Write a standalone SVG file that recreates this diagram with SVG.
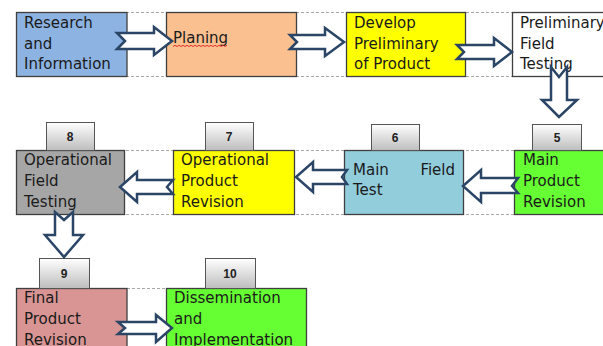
<svg xmlns="http://www.w3.org/2000/svg" width="603" height="346" viewBox="0 0 603 346">
<defs>
<linearGradient id="tabg" x1="0" y1="0" x2="0" y2="1">
<stop offset="0" stop-color="#ffffff"/>
<stop offset="1" stop-color="#bdbdbd"/>
</linearGradient>
<style>
.box{stroke:#3f3f3f;stroke-width:1.3}
.dash{stroke:#a8a8a8;stroke-width:1;stroke-dasharray:3 2;fill:none}
.t{font-family:"DejaVu Sans",sans-serif;font-size:15px;fill:#1a1a1a}
.tab{fill:url(#tabg);stroke:#555;stroke-width:1}
.num{font-family:"Liberation Sans",sans-serif;font-size:12px;font-weight:bold;fill:#222;text-anchor:middle}
.arr{fill:#ffffff;stroke:#2b4566;stroke-width:2.5;stroke-linejoin:miter}
</style>
</defs>
<rect width="603" height="346" fill="#ffffff"/>
<g id="guides">
<line class="dash" x1="16" y1="12.5" x2="603" y2="12.5"/>
<line class="dash" x1="16" y1="76.5" x2="603" y2="76.5"/>
<line class="dash" x1="16" y1="150.5" x2="603" y2="150.5"/>
<line class="dash" x1="16" y1="214.5" x2="603" y2="214.5"/>
<line class="dash" x1="127" y1="288.5" x2="166" y2="288.5"/>
</g>
<g id="n1">
<rect class="box" x="16.5" y="12.5" width="110.5" height="64" fill="#8db3e2"/>
<text class="t" x="24" y="28">Research</text>
<text class="t" x="24" y="49">and</text>
<text class="t" x="24" y="69">Information</text>
</g>
<g id="n2">
<rect class="box" x="166.5" y="12.5" width="130" height="64" fill="#fac090"/>
<text class="t" x="173" y="43">Planing</text>
<path d="M173 46.5 l2 -1.2 l2 1.2 l2 -1.2 l2 1.2 l2 -1.2 l2 1.2 l2 -1.2 l2 1.2 l2 -1.2 l2 1.2 l2 -1.2 l2 1.2 l2 -1.2 l2 1.2 l2 -1.2 l2 1.2 l2 -1.2 l2 1.2 l2 -1.2 l2 1.2 l2 -1.2 l2 1.2 l2 -1.2 l2 1.2 l2 -1.2 l2 1.2 l2 -1.2" fill="none" stroke="#e02020" stroke-width="0.9"/>
</g>
<g id="n3">
<rect class="box" x="346.5" y="12.5" width="119" height="64" fill="#ffff00"/>
<text class="t" x="354" y="28">Develop</text>
<text class="t" x="354" y="49">Preliminary</text>
<text class="t" x="354" y="69">of Product</text>
</g>
<g id="n4">
<rect class="box" x="512.5" y="12.5" width="100" height="64" fill="#ffffff"/>
<text class="t" x="520" y="28">Preliminary</text>
<text class="t" x="520" y="49">Field</text>
<text class="t" x="520" y="69">Testing</text>
</g>
<g id="n5">
<rect class="box" x="514.5" y="150.5" width="100" height="64" fill="#66ff33"/>
<rect class="tab" x="532.5" y="124.5" width="49" height="26"/>
<text class="num" x="557" y="142">5</text>
<text class="t" x="523" y="165">Main</text>
<text class="t" x="523" y="186">Product</text>
<text class="t" x="523" y="207">Revision</text>
</g>
<g id="n6">
<rect class="box" x="344.5" y="150.5" width="119" height="64" fill="#92cddc"/>
<rect class="tab" x="371.5" y="124.5" width="48" height="26"/>
<text class="num" x="395" y="142">6</text>
<text class="t" x="353" y="175">Main</text>
<text class="t" x="455" y="175" text-anchor="end">Field</text>
<text class="t" x="353" y="195">Test</text>
</g>
<g id="n7">
<rect class="box" x="173.5" y="150.5" width="121" height="64" fill="#ffff00"/>
<rect class="tab" x="205.5" y="122.5" width="48" height="28"/>
<text class="num" x="229" y="141">7</text>
<text class="t" x="181" y="165">Operational</text>
<text class="t" x="181" y="186">Product</text>
<text class="t" x="181" y="207">Revision</text>
</g>
<g id="n8">
<rect class="box" x="16.5" y="150.5" width="108" height="64" fill="#a6a6a6"/>
<rect class="tab" x="46.5" y="122.5" width="48" height="28"/>
<text class="num" x="70" y="141">8</text>
<text class="t" x="24" y="165" fill="#333">Operational</text>
<text class="t" x="24" y="186">Field</text>
<text class="t" x="24" y="207">Testing</text>
</g>
<g id="n9">
<rect class="box" x="16.5" y="288.5" width="110.5" height="64" fill="#d99594"/>
<rect class="tab" x="39.5" y="258.5" width="50" height="30"/>
<text class="num" x="64" y="278">9</text>
<text class="t" x="24" y="303">Final</text>
<text class="t" x="24" y="324">Product</text>
<text class="t" x="24" y="345">Revision</text>
</g>
<g id="n10">
<rect class="box" x="166.5" y="288.5" width="140" height="64" fill="#66ff33"/>
<rect class="tab" x="205.5" y="258.5" width="50" height="30"/>
<text class="num" x="230" y="278">10</text>
<text class="t" x="174" y="303">Dissemination</text>
<text class="t" x="174" y="324">and</text>
<text class="t" x="174" y="345">Implementation</text>
</g>
<g id="connectors">
<path class="arr" d="M117 33 H154 V27 L172 41 L154 55 V49 H117 L125 41 Z"/>
<path class="arr" d="M290 35 H325 V28 L344 42 L325 56 V49 H290 L297 42 Z"/>
<path class="arr" d="M457 45 H494 V38 L512 52 L494 66 V59 H457 L464 52 Z"/>
<path class="arr" d="M551 67 V100 H542 L559 117 L577 100 H567 V67 L559 77 Z"/>
<path class="arr" d="M518 178 H481 V170 L463 186 L481 202 V193 H518 L512 186 Z"/>
<path class="arr" d="M347 170 H313 V162 L296 177 L313 192 V184 H347 L342 177 Z"/>
<path class="arr" d="M173 180 H137 V172 L120 187 L137 202 V194 H173 L167 187 Z"/>
<path class="arr" d="M55 212 V235 H45 L64 257 L83 235 H73 V212 L64 220 Z"/>
<path class="arr" d="M118 322 H156 V315 L172 328 L156 342 V334 H118 L125 328 Z"/>
</g>
</svg>
